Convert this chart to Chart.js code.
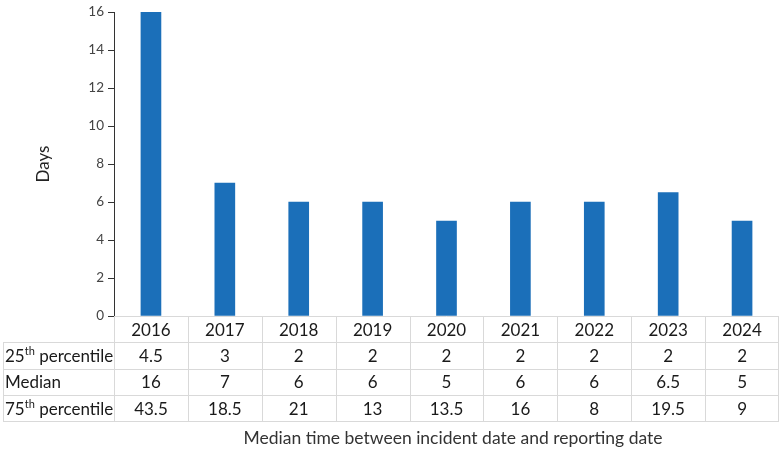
<!DOCTYPE html>
<html lang="en">
<head>
    <meta charset="UTF-8">
    <title>Median time between incident date and reporting date</title>
    <script src="https://cdn.jsdelivr.net/npm/chart.js"></script>
    <style>
        html, body { margin: 0; padding: 0; background: #fff; }
        #wrap { width: 784px; height: 451px; }
    </style>
</head>
<body>
<div id="wrap"><canvas id="chart" width="784" height="451"></canvas></div>
<script>
    const years = ['2016', '2017', '2018', '2019', '2020', '2021', '2022', '2023', '2024'];
    const p25 = ['4.5', '3', '2', '2', '2', '2', '2', '2', '2'];
    const median = [16, 7, 6, 6, 5, 6, 6, 6.5, 5];
    const p75 = ['43.5', '18.5', '21', '13', '13.5', '16', '8', '19.5', '9'];
    const yTicks = [0, 2, 4, 6, 8, 10, 12, 14, 16];

    const FONT = 'Lato, "Open Sans", sans-serif';
    const rowH = 26.3;
    const tableLeft = 3;

    // draws the data table under the plot, columns taken from the x scale
    const tablePlugin = {
        id: 'dataTable',
        afterDraw(chart) {
            const ctx = chart.ctx;
            const x = chart.scales.x;
            const area = chart.chartArea;
            const top = area.bottom;
            const right = area.right;
            const half = (x.getPixelForValue(1) - x.getPixelForValue(0)) / 2;
            const rows = [
                { label: ['25', 'th', ' percentile'], vals: p25 },
                { label: ['Median'], vals: median.map(String) },
                { label: ['75', 'th', ' percentile'], vals: p75 }
            ];

            ctx.save();
            ctx.strokeStyle = '#d9d9d9';
            ctx.lineWidth = 1;
            ctx.beginPath();
            // header row
            ctx.moveTo(area.left, top + 0.5);
            ctx.lineTo(right, top + 0.5);
            for (let i = 0; i <= rows.length; i++) {
                const y = Math.round(top + rowH * (i + 1)) + 0.5;
                ctx.moveTo(tableLeft, y);
                ctx.lineTo(right, y);
            }
            const bottom = Math.round(top + rowH * (rows.length + 1)) + 0.5;
            ctx.moveTo(tableLeft + 0.5, Math.round(top + rowH) + 0.5);
            ctx.lineTo(tableLeft + 0.5, bottom);
            years.forEach((y, i) => {
                const px = Math.round(x.getPixelForValue(i) - half) + 0.5;
                ctx.moveTo(px, top);
                ctx.lineTo(px, bottom);
            });
            ctx.moveTo(right - 0.5, top);
            ctx.lineTo(right - 0.5, bottom);
            ctx.stroke();

            ctx.fillStyle = '#1a1a1a';
            ctx.textBaseline = 'middle';
            ctx.textAlign = 'center';
            ctx.font = '17px ' + FONT;
            years.forEach((y, i) => {
                ctx.fillText(y, x.getPixelForValue(i), top + rowH / 2 + 1);
            });
            rows.forEach((r, ri) => {
                const cy = top + rowH * (ri + 1.5) + 1;
                ctx.textAlign = 'center';
                ctx.font = '17px ' + FONT;
                r.vals.forEach((v, i) => ctx.fillText(v, x.getPixelForValue(i), cy));
                ctx.textAlign = 'left';
                let lx = tableLeft + 2;
                r.label.forEach((part, pi) => {
                    if (pi === 1) {
                        ctx.font = '11px ' + FONT;
                        ctx.fillText(part, lx, cy - 5);
                    } else {
                        ctx.font = '17px ' + FONT;
                        ctx.fillText(part, lx, cy);
                    }
                    lx += ctx.measureText(part).width;
                });
            });

            ctx.textAlign = 'center';
            ctx.font = '17.5px ' + FONT;
            ctx.fillStyle = '#333';
            ctx.fillText('Median time between incident date and reporting date', 453, 438);
            ctx.restore();
        }
    };

    new Chart(document.getElementById('chart'), {
        type: 'bar',
        data: {
            labels: years,
            datasets: [{
                label: 'Median',
                data: median,
                backgroundColor: '#1b6fb9',
                barThickness: 20
            }]
        },
        options: {
            responsive: false,
            animation: false,
            layout: { padding: { top: 9, right: 5, bottom: 135, left: 0 } },
            plugins: { legend: { display: false }, tooltip: { enabled: false } },
            scales: {
                x: { display: false },
                y: {
                    min: 0,
                    max: 16,
                    afterBuildTicks: s => { s.ticks = yTicks.map(v => ({ value: v })); },
                    afterFit: s => { s.width = 114; },
                    border: { color: '#333', width: 1 },
                    grid: { drawOnChartArea: false, drawTicks: true, tickLength: 6, color: '#333' },
                    ticks: { color: '#444', font: { family: FONT, size: 13.5 }, padding: 4 },
                    title: {
                        display: true,
                        text: 'Days',
                        color: '#222',
                        font: { family: FONT, size: 17 },
                        padding: { top: 33, bottom: 0 }
                    }
                }
            }
        },
        plugins: [tablePlugin]
    });
</script>
</body>
</html>
